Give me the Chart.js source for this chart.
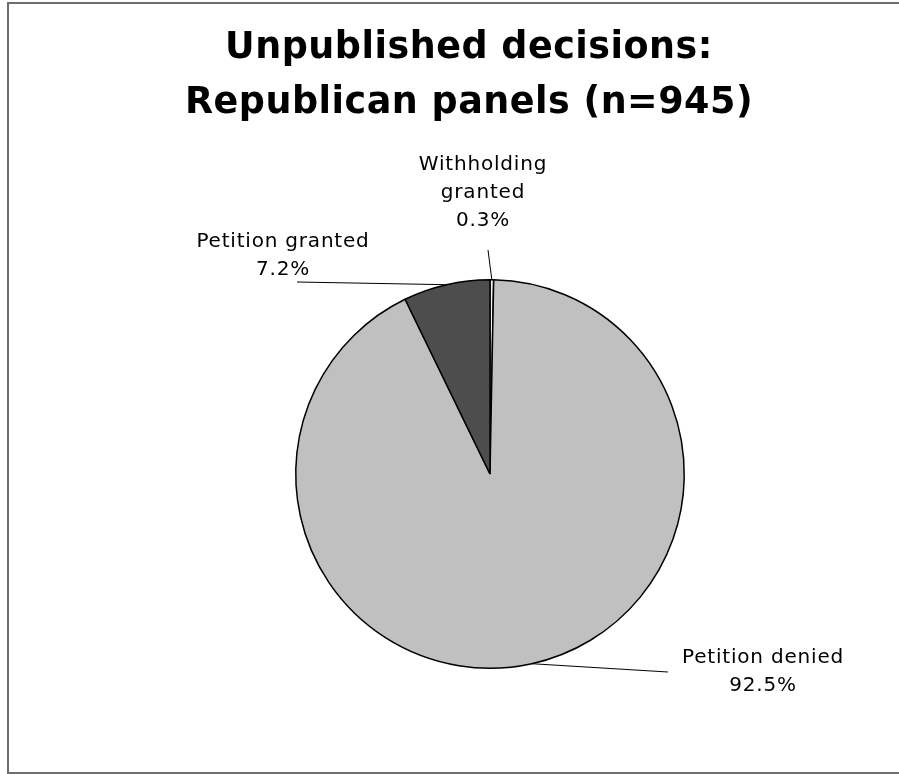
<!DOCTYPE html>
<html>
<head>
<meta charset="utf-8">
<script src="https://cdn.jsdelivr.net/npm/chart.js@4/dist/chart.umd.min.js"></script>
<style>
  html, body { margin: 0; padding: 0; background: #fff; overflow: hidden; }
  #wrap { position: relative; width: 899px; height: 774px; }
  #frame {
    position: absolute; left: 7px; top: 2px; width: 910px; height: 772px;
    box-sizing: border-box; border: 2px solid #6e6e6e;
  }
  #title {
    position: absolute; left: 0; width: 938px; top: 18px; text-align: center;
    font-family: "DejaVu Sans", Verdana, sans-serif; font-weight: bold;
    font-size: 36.5px; letter-spacing: 0.5px; line-height: 55px; color: #000;
  }
  canvas { position: absolute; left: 0; top: 0; }
</style>
</head>
<body>
<div id="wrap">
  <div id="frame"></div>
  <canvas id="myChart" width="899" height="774"></canvas>
  <div id="title">Unpublished decisions:<br>Republican panels (n=945)</div>
</div>
<script>
// slices go clockwise from 12 o'clock
const categories = ['Withholding granted', 'Petition denied', 'Petition granted'];
const labelLines = [['Withholding', 'granted'], ['Petition denied'], ['Petition granted']];
const shares = [0.3, 92.5, 7.2];
const sliceColors = ['#f4f4f4', '#c0c0c0', '#4d4d4d'];

// where each label sits, relative to the pie centre (px)
const labelSpots = [
  { tx: -7, ty: -309, lx: -2, ly: -224 },
  { tx: 273, ty: 184, lx: 178, ly: 198 },
  { tx: -207, ty: -232, lx: -193, ly: -192 }
];

const leaderLabels = {
  id: 'leaderLabels',
  afterDatasetsDraw(chart) {
    const ctx = chart.ctx;
    const meta = chart.getDatasetMeta(0);
    ctx.save();
    ctx.font = '20px "DejaVu Sans", Verdana, sans-serif';
    ctx.letterSpacing = '0.8px';
    ctx.fillStyle = '#000';
    ctx.textAlign = 'center';
    ctx.textBaseline = 'middle';
    meta.data.forEach((arc, i) => {
      const p = arc.getProps(['x', 'y', 'startAngle', 'endAngle', 'outerRadius'], true);
      const mid = (p.startAngle + p.endAngle) / 2;
      const sx = p.x + Math.cos(mid) * p.outerRadius;
      const sy = p.y + Math.sin(mid) * p.outerRadius;
      const spot = labelSpots[i];
      ctx.strokeStyle = '#000';
      ctx.lineWidth = 1;
      ctx.beginPath();
      ctx.moveTo(sx, sy);
      ctx.lineTo(p.x + spot.lx, p.y + spot.ly);
      ctx.stroke();
      const lines = labelLines[i].concat([shares[i].toFixed(1) + '%']);
      lines.forEach((t, k) => {
        ctx.fillText(t, p.x + spot.tx, p.y + spot.ty + k * 28);
      });
    });
    ctx.restore();
  }
};

new Chart(document.getElementById('myChart'), {
  type: 'pie',
  data: {
    labels: categories,
    datasets: [{
      data: shares,
      backgroundColor: sliceColors,
      borderColor: '#000',
      borderWidth: 1.5
    }]
  },
  options: {
    responsive: false,
    animation: false,
    layout: { padding: { top: 279, bottom: 105, left: 100, right: 19 } },
    plugins: {
      legend: { display: false },
      tooltip: { enabled: false },
      title: { display: false }
    }
  },
  plugins: [leaderLabels]
});
</script>
</body>
</html>
